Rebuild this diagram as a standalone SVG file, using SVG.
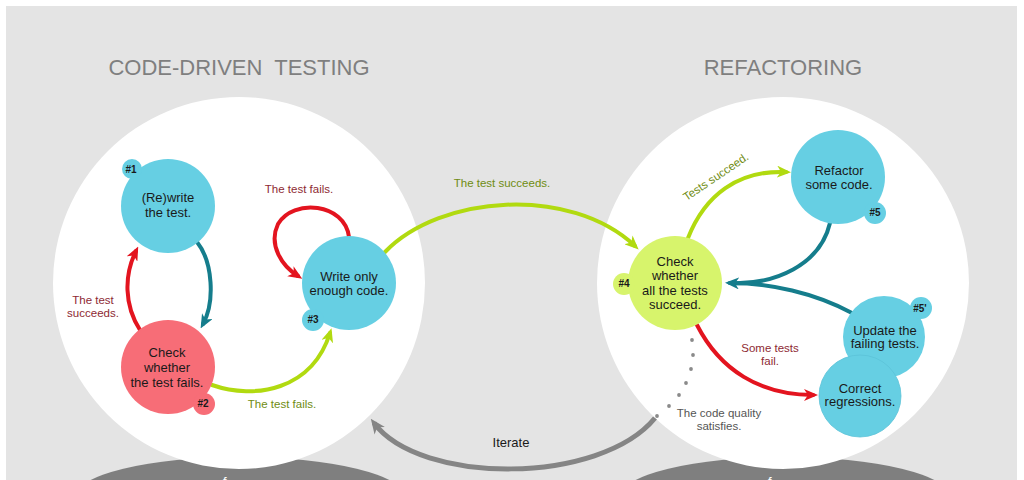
<svg xmlns="http://www.w3.org/2000/svg" width="1024" height="480" viewBox="0 0 1024 480">
<defs>
<style>
.title{font-family:"Liberation Sans",Arial,sans-serif;font-size:22px;fill:#7f7f7f;text-anchor:middle;white-space:pre}
.nt{font-family:"Liberation Sans",Arial,sans-serif;font-size:13px;fill:#1a1a1a;text-anchor:middle}
.bt{font-family:"Liberation Sans",Arial,sans-serif;font-size:10px;font-weight:bold;fill:#1a1a1a;text-anchor:middle}
.lb{font-family:"Liberation Sans",Arial,sans-serif;font-size:11.5px;text-anchor:middle}
.red{fill:#8e2a33}
.olive{fill:#6f8c12}
.grey{fill:#555555}
.blue{fill:#66cfe3}
.pink{fill:#f76d77}
.lime{fill:#d7f46c}
.c{fill:none;stroke-width:4;stroke-linecap:round}
</style>
<marker id="aRed" viewBox="0 0 14 12" refX="9" refY="6" markerWidth="14" markerHeight="12" orient="auto" markerUnits="userSpaceOnUse"><path d="M0,0 L14,6 L0,12 L4,6 z" fill="#e3141f"/></marker>
<marker id="aTeal" viewBox="0 0 14 12" refX="9" refY="6" markerWidth="14" markerHeight="12" orient="auto" markerUnits="userSpaceOnUse"><path d="M0,0 L14,6 L0,12 L4,6 z" fill="#157d8c"/></marker>
<marker id="aLime" viewBox="0 0 14 12" refX="9" refY="6" markerWidth="14" markerHeight="12" orient="auto" markerUnits="userSpaceOnUse"><path d="M0,0 L14,6 L0,12 L4,6 z" fill="#b1da10"/></marker>
<marker id="aGrey" viewBox="0 0 14 12" refX="9" refY="6" markerWidth="15" markerHeight="13" orient="auto" markerUnits="userSpaceOnUse"><path d="M0,0 L14,6 L0,12 L4,6 z" fill="#858585"/></marker>
</defs>
<rect x="0" y="0" width="1024" height="480" fill="#ffffff"/>
<rect x="6" y="6" width="1011" height="480" fill="#e4e4e4"/>
<g id="bases">
<ellipse cx="240" cy="497" rx="165" ry="40" fill="#7f7f7f"/>
<ellipse cx="785" cy="497" rx="165" ry="40" fill="#7f7f7f"/>
<text x="223" y="486" font-family="Liberation Sans, Arial, sans-serif" font-size="13" fill="#ffffff">f</text>
<text x="768" y="486" font-family="Liberation Sans, Arial, sans-serif" font-size="13" fill="#ffffff">f</text>
</g>
<g id="areas">
<circle cx="239" cy="283" r="186" fill="#ffffff"/>
<circle cx="783" cy="283" r="186" fill="#ffffff"/>
<text class="title" x="239" y="75" xml:space="preserve">CODE-DRIVEN  TESTING</text>
<text class="title" x="783" y="75">REFACTORING</text>
</g>
<g id="connectors">
<path class="c" stroke="#157d8c" d="M197,242 C213,262 215,302 203,324" marker-end="url(#aTeal)"/>
<path class="c" stroke="#e3141f" d="M140,330 C124,305 124,275 136,251" marker-end="url(#aRed)"/>
<path class="c" stroke="#e3141f" d="M349,237 C345,203 293,198 278,224 C268,245 282,266 298,276" marker-end="url(#aRed)"/>
<path class="c" stroke="#b1da10" d="M212,385 C255,400 312,390 330,333" marker-end="url(#aLime)"/>
<path class="c" stroke="#b1da10" d="M385,252 C440,195 570,185 635,246" marker-end="url(#aLime)"/>
<path class="c" stroke="#b1da10" d="M688,238 C705,195 738,170 786,172" marker-end="url(#aLime)"/>
<path class="c" stroke="#157d8c" d="M830,223 C820,265 775,285 730,283" marker-end="url(#aTeal)"/>
<path class="c" stroke="#157d8c" d="M852,313 C815,293 770,283 730,283"/>
<path class="c" stroke="#e3141f" d="M697,325 C720,370 760,395 813,395" marker-end="url(#aRed)"/>
<path fill="none" stroke="#858585" stroke-width="5" d="M655,418 C600,485 420,485 374,423" marker-end="url(#aGrey)"/>
<g fill="#8a8a8a">
<circle cx="692" cy="340" r="1.9"/><circle cx="693" cy="355" r="1.9"/><circle cx="691" cy="369" r="1.9"/><circle cx="686" cy="383" r="1.9"/><circle cx="679" cy="395" r="1.9"/><circle cx="669" cy="406" r="1.9"/><circle cx="657" cy="416" r="1.9"/>
</g>
<text class="lb red" x="299" y="193">The test fails.</text>
<text class="lb red" x="93" y="304">The test</text>
<text class="lb red" x="93" y="317">succeeds.</text>
<text class="lb olive" x="282" y="408">The test fails.</text>
<text class="lb olive" x="502" y="187">The test succeeds.</text>
<text class="lb olive" x="718" y="180" transform="rotate(-34 718 180)">Tests succeed.</text>
<text class="lb red" x="770" y="352">Some tests</text>
<text class="lb red" x="770" y="365">fail.</text>
<text class="lb grey" x="719" y="417">The code quality</text>
<text class="lb grey" x="719" y="430">satisfies.</text>
<text class="nt" x="511" y="447">Iterate</text>
</g>
<g id="n1">
<circle class="blue" cx="168" cy="206" r="47"/>
<circle class="blue" cx="132" cy="169" r="10"/>
<text class="bt" x="131" y="173">#1</text>
<text class="nt" x="168" y="202">(Re)write</text>
<text class="nt" x="168" y="217">the test.</text>
</g>
<g id="n2">
<circle class="pink" cx="168" cy="367" r="47"/>
<circle class="pink" cx="204" cy="404" r="11"/>
<text class="bt" x="203" y="407">#2</text>
<text class="nt" x="167" y="357">Check</text>
<text class="nt" x="167" y="372">whether</text>
<text class="nt" x="167" y="387">the test fails.</text>
</g>
<g id="n3">
<circle class="blue" cx="349" cy="283" r="47"/>
<circle class="blue" cx="313" cy="320" r="11"/>
<text class="bt" x="313" y="323">#3</text>
<text class="nt" x="349" y="281">Write only</text>
<text class="nt" x="349" y="295">enough code.</text>
</g>
<g id="n4">
<circle class="lime" cx="675" cy="283" r="47"/>
<circle class="lime" cx="624" cy="284" r="11"/>
<text class="bt" x="624" y="287">#4</text>
<text class="nt" x="675" y="266">Check</text>
<text class="nt" x="675" y="280">whether</text>
<text class="nt" x="675" y="295">all the tests</text>
<text class="nt" x="675" y="309">succeed.</text>
</g>
<g id="n5">
<circle class="blue" cx="838" cy="177" r="47"/>
<circle class="blue" cx="875" cy="213" r="11"/>
<text class="bt" x="875" y="216">#5</text>
<text class="nt" x="839" y="175">Refactor</text>
<text class="nt" x="839" y="189">some code.</text>
</g>
<g id="n5b">
<circle class="blue" cx="884" cy="337" r="41"/>
<circle class="blue" cx="921" cy="308" r="11"/>
<text class="bt" x="920" y="312">#5'</text>
<text class="nt" x="885" y="335">Update the</text>
<text class="nt" x="885" y="348">failing tests.</text>
</g>
<g id="n6">
<circle class="blue" cx="860" cy="396" r="41" stroke="#5cc3d8" stroke-width="0.8"/>
<text class="nt" x="860" y="393">Correct</text>
<text class="nt" x="860" y="406">regressions.</text>
</g>
</svg>
